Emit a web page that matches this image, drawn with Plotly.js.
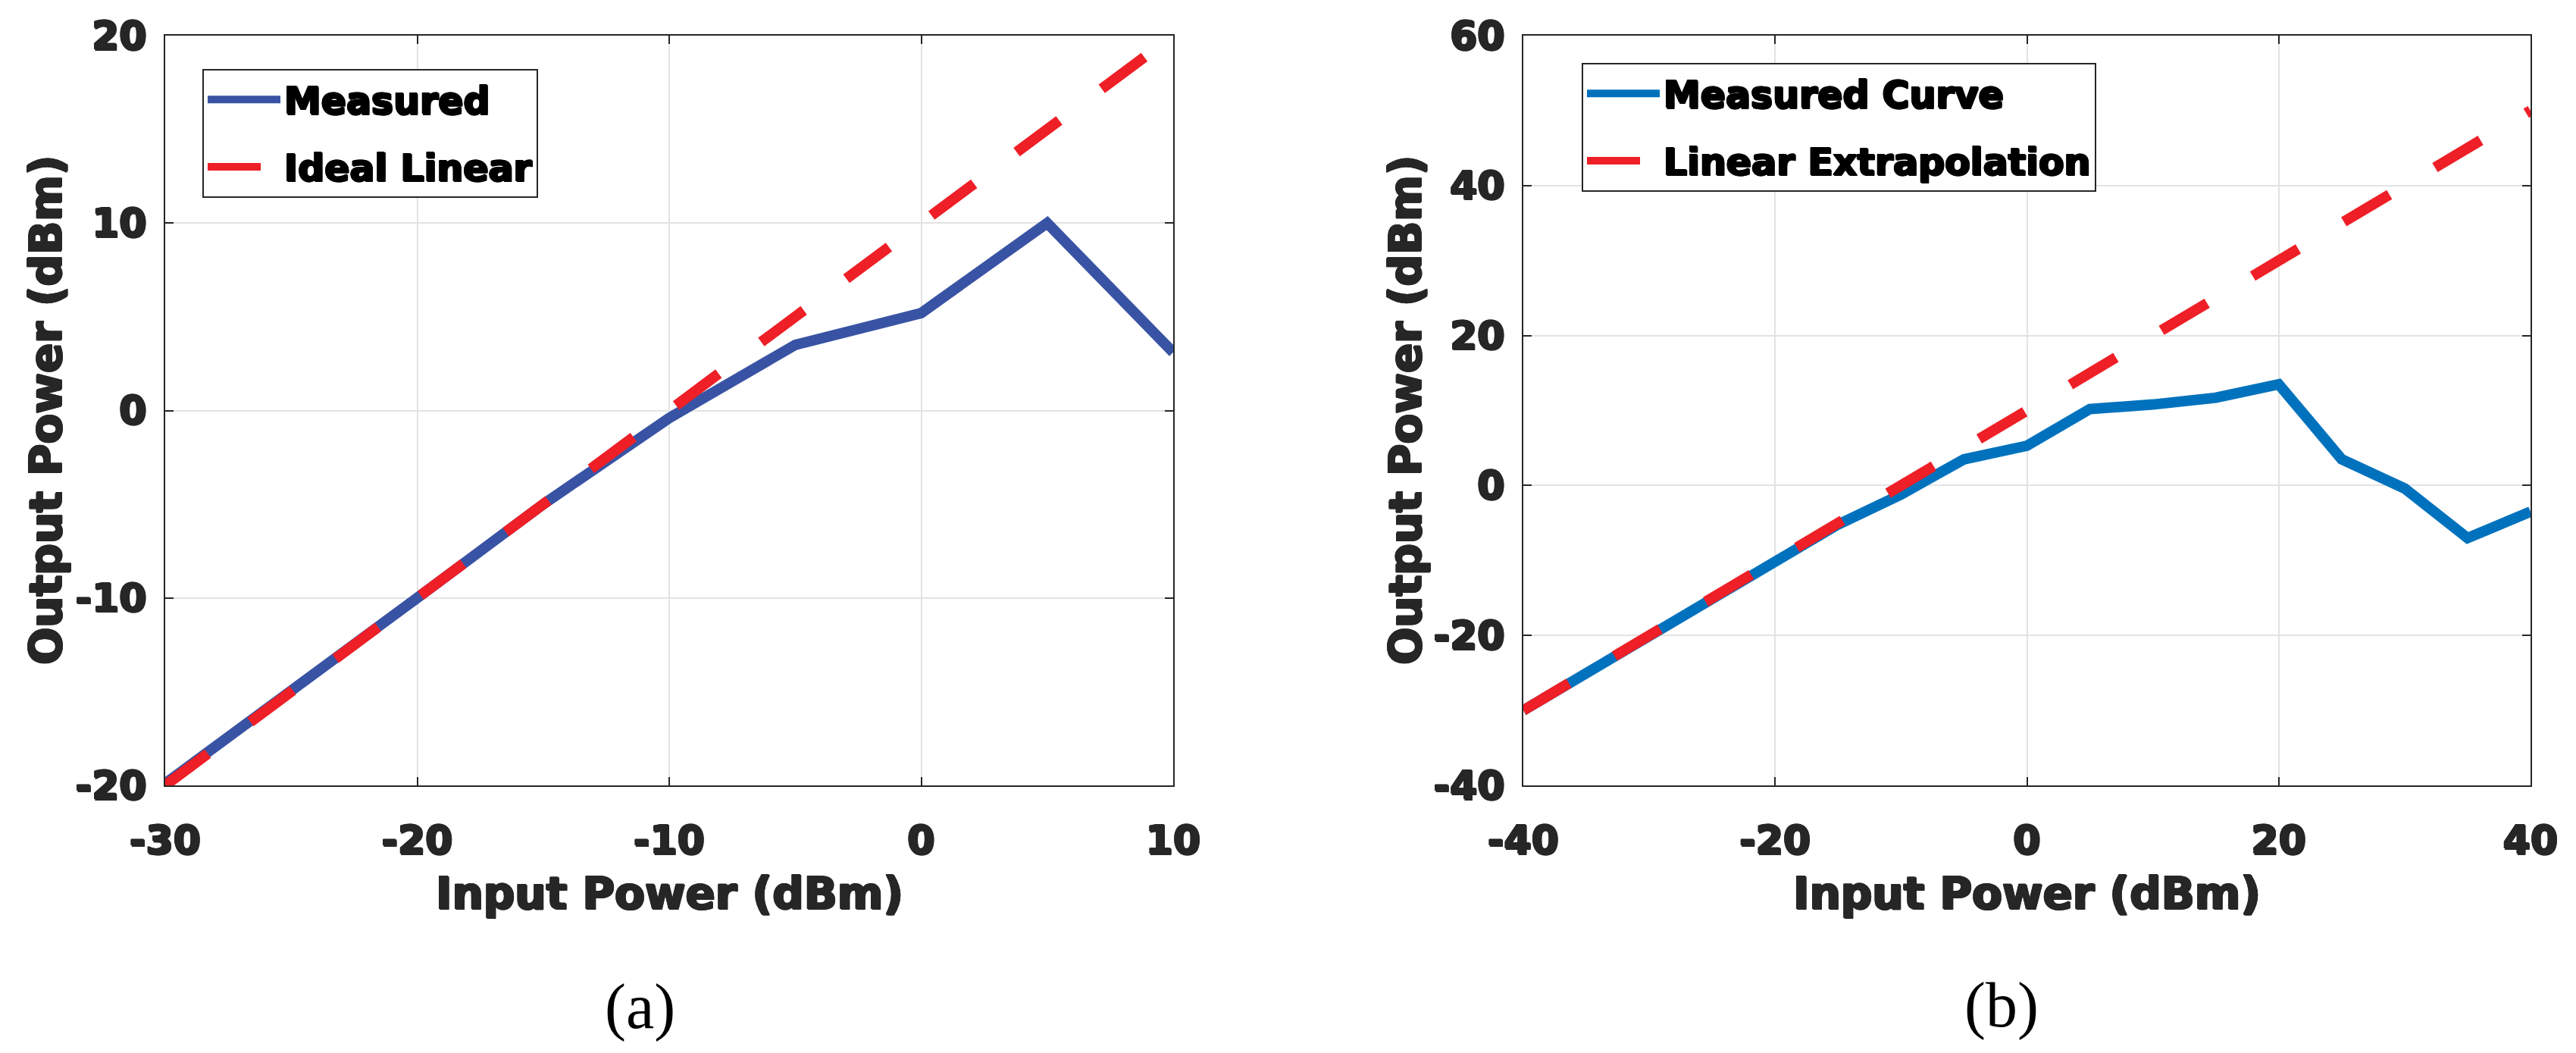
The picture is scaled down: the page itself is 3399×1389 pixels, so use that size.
<!DOCTYPE html>
<html>
<head>
<meta charset="utf-8">
<script src="https://cdn.plot.ly/plotly-3.0.1.min.js"></script>
<style>
  html, body { margin: 0; padding: 0; background: #fff; }
  #chart { width: 3399px; height: 1389px; }
</style>
</head>
<body>
<div id="chart"></div>
<script>
// (a) measured vs ideal linear
const a_input = [-30, -25, -20, -15, -10, -5, 0, 5, 10];
const a_measured = [-19.9, -15, -10, -5, -0.4, 3.5, 5.2, 10, 3.1];
const a_ideal_input = [-30, 10];
const a_ideal = [-20, 20];

// (b) measured curve vs linear extrapolation
const b_input = [-40, -35, -30, -25, -20, -15, -10, -5, 0, 5, 10, 15, 20, 25, 30, 35, 40];
const b_measured = [-30, -25, -20, -15, -10, -5.2, -1.2, 3.5, 5.3, 10.2, 10.8, 11.7, 13.5, 3.5, -0.4, -7, -3.5];
const b_linear_input = [-40, 40];
const b_linear = [-30, 50];

// ticks
const a_xticks = [-30, -20, -10, 0, 10];
const a_yticks = [-20, -10, 0, 10, 20];
const b_xticks = [-40, -20, 0, 20, 40];
const b_yticks = [-40, -20, 0, 20, 40, 60];
const label = (v) => String(v);

const W = 3399, H = 1389;
const px = (x) => x / W;
const py = (y) => 1 - y / H;

const FONT = 'DejaVu Sans, Liberation Sans, Arial, sans-serif';
const DASH = '70px,70px';
const LW = 14;

// fake a heavier weight by stroking the glyphs with text-shadow
function heavy(c) {
    const d = 1.3;
    return [`${d}px 0 0 ${c}`, `-${d}px 0 0 ${c}`, `0 ${d}px 0 ${c}`, `0 -${d}px 0 ${c}`,
            `${d}px ${d}px 0 ${c}`, `-${d}px -${d}px 0 ${c}`].join(', ');
}

function axis_style(domain, range, ticks, anchor) {
    return {
        domain: domain,
        range: range,
        anchor: anchor,
        tickmode: 'array',
        tickvals: ticks,
        ticktext: ticks.map(label),
        showline: true,
        linecolor: '#262626',
        linewidth: 2,
        mirror: 'ticks',
        ticks: 'inside',
        ticklen: 11,
        tickwidth: 2,
        tickcolor: '#262626',
        showgrid: true,
        gridcolor: '#e3e3e3',
        gridwidth: 2,
        zeroline: false,
        fixedrange: true,
        tickfont: {family: FONT, size: 52, color: '#262626', weight: 'bold', shadow: heavy('#262626')},
    };
}

const traces = [
    {
        x: a_input, y: a_measured, name: 'Measured',
        type: 'scatter', mode: 'lines', xaxis: 'x', yaxis: 'y',
        line: {color: '#3953a4', width: LW},
        legend: 'legend', legendgroup: 'a1',
    },
    {
        x: a_ideal_input, y: a_ideal, name: 'Ideal Linear',
        type: 'scatter', mode: 'lines', xaxis: 'x', yaxis: 'y',
        line: {color: '#ee1f26', width: LW, dash: DASH},
        legend: 'legend', legendgroup: 'a2',
    },
    {
        x: b_input, y: b_measured, name: 'Measured Curve',
        type: 'scatter', mode: 'lines', xaxis: 'x2', yaxis: 'y2',
        line: {color: '#0072bd', width: LW},
        legend: 'legend2', legendgroup: 'b1',
    },
    {
        x: b_linear_input, y: b_linear, name: 'Linear Extrapolation',
        type: 'scatter', mode: 'lines', xaxis: 'x2', yaxis: 'y2',
        line: {color: '#ee1f26', width: LW, dash: DASH},
        legend: 'legend2', legendgroup: 'b2',
    },
];

const y_dom = [py(1036), py(47)];

function legend_style(x0, y0) {
    return {
        x: px(x0), y: py(y0), xanchor: 'left', yanchor: 'top',
        xref: 'paper', yref: 'paper',
        bgcolor: '#ffffff', bordercolor: '#262626', borderwidth: 2,
        font: {family: FONT, size: 49, color: '#000000', weight: 'bold', shadow: heavy('#000000')},
        traceorder: 'grouped', tracegroupgap: 22,
        itemwidth: 96,
    };
}

function title_ann(text, x, y, angle) {
    return {
        text: text, x: px(x), y: py(y), xref: 'paper', yref: 'paper',
        showarrow: false, textangle: angle, xanchor: 'center', yanchor: 'middle',
        font: {family: FONT, size: 58, color: '#262626', weight: 'bold', shadow: heavy('#262626')},
    };
}

function caption(text, x, y) {
    return {
        text: text, x: px(x), y: py(y), xref: 'paper', yref: 'paper',
        showarrow: false, xanchor: 'center', yanchor: 'middle',
        font: {family: 'Liberation Serif, Times New Roman, serif', size: 84, color: '#000000'},
    };
}

const layout = {
    width: W, height: H,
    margin: {l: 0, r: 0, t: 0, b: 0},
    paper_bgcolor: '#ffffff',
    plot_bgcolor: '#ffffff',
    showlegend: true,
    xaxis: axis_style([px(218), px(1548)], [-30, 10], a_xticks, 'y'),
    yaxis: axis_style(y_dom, [-20, 20], a_yticks, 'x'),
    xaxis2: axis_style([px(2010), px(3339)], [-40, 40], b_xticks, 'y2'),
    yaxis2: axis_style(y_dom, [-40, 60], b_yticks, 'x2'),
    legend: legend_style(267, 91),
    legend2: legend_style(2087, 83),
    annotations: [
        title_ann('Input Power (dBm)', 883, 1179, 0),
        title_ann('Output Power (dBm)', 61, 541, -90),
        title_ann('Input Power (dBm)', 2674, 1179, 0),
        title_ann('Output Power (dBm)', 1855, 541, -90),
        caption('(a)', 844, 1328),
        caption('(b)', 2641, 1326),
    ],
};

layout.xaxis.ticklabelstandoff = 26;
layout.xaxis2.ticklabelstandoff = 26;
layout.yaxis.ticklabelstandoff = 12;
layout.yaxis2.ticklabelstandoff = 12;

Plotly.newPlot('chart', traces, layout, {displayModeBar: false, staticPlot: true});
</script>
</body>
</html>
